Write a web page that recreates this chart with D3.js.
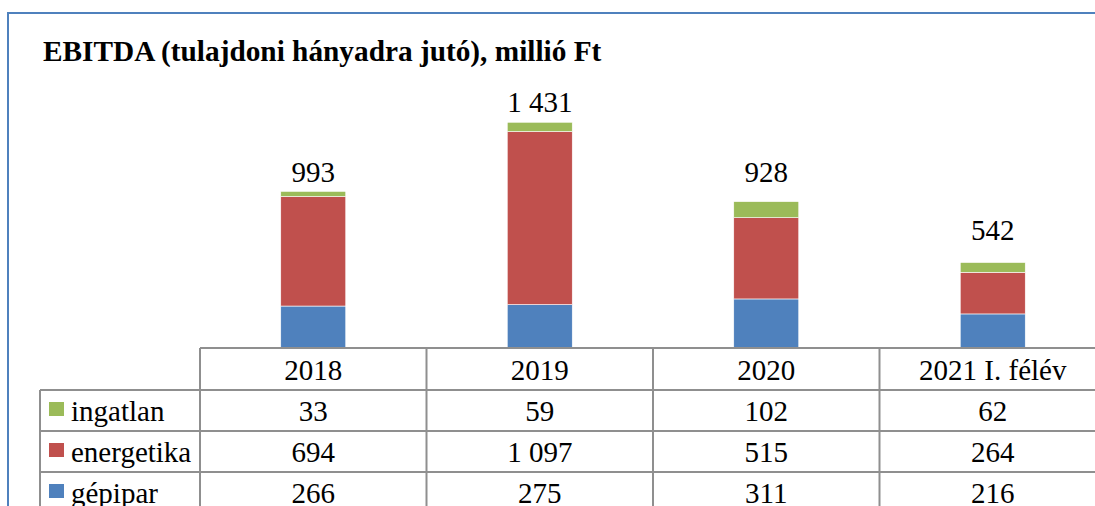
<!DOCTYPE html>
<html><head><meta charset="utf-8">
<script src="https://cdn.jsdelivr.net/npm/d3@7"></script>
<style>html,body{margin:0;padding:0;background:#fff;overflow:hidden}
svg text{font-family:"Liberation Serif","Tinos","Times New Roman",Times,"DejaVu Serif",serif;}</style>
</head><body>
<script>
const categories = ["2018", "2019", "2020", "2021 I. félév"];
const seriesNames = ["gépipar", "energetika", "ingatlan"];
const gepipar = [266, 275, 311, 216];
const energetika = [694, 1097, 515, 264];
const ingatlan = [33, 59, 102, 62];
const totals = [993, 1431, 928, 542];
const colors = ["#4F81BD", "#C0504D", "#9BBB59"];
// gap (px) between bar top and the total label's baseline, as placed in the original
const labelGaps = [9.5, 10, 20, 22];
const fmt = v => d3.format(",")(v).replace(/,/g, " ");

const W = 1095, H = 506;
const svg = d3.select("body").append("svg").attr("width", W).attr("height", H);

svg.append("rect").attr("x", 8).attr("y", 13).attr("width", 1200).attr("height", 600)
  .attr("fill", "none").attr("stroke", "#4F81BD").attr("stroke-width", 2);

svg.append("text").attr("x", 43).attr("y", 61)
  .attr("font-weight", "bold").attr("font-size", 29.3).attr("fill", "#000")
  .text("EBITDA (tulajdoni hányadra jutó), millió Ft");

const baseY = 348;
const x = d3.scaleBand().domain(categories).range([200, 1106]).paddingInner(0).paddingOuter(0);
const y = d3.scaleLinear().domain([0, 1600]).range([baseY, 95.6]);
const barW = 65;

const rows = categories.map((c, i) => ({cat: c, gépipar: gepipar[i], energetika: energetika[i], ingatlan: ingatlan[i]}));
const stack = d3.stack().keys(seriesNames)(rows);

svg.append("g").selectAll("g").data(stack).join("g")
  .attr("fill", (d, i) => colors[i])
  .selectAll("rect").data(d => d).join("rect")
  .attr("x", d => x(d.data.cat) + x.bandwidth() / 2 - barW / 2)
  .attr("width", barW)
  .attr("y", d => y(d[1]))
  .attr("height", d => y(d[0]) - y(d[1]))
  .attr("stroke", "#fff").attr("stroke-width", 0.6);

svg.append("g").selectAll("text").data(categories).join("text")
  .attr("x", d => x(d) + x.bandwidth() / 2)
  .attr("y", (d, i) => y(totals[i]) - labelGaps[i])
  .attr("text-anchor", "middle").attr("font-size", 29)
  .text((d, i) => fmt(totals[i]));

const lineC = "#8f8f8f", lw = 2;
const rowEdges = [348, 390, 431, 472, 513];
const tableRows = [
  {name: "ingatlan", vals: ingatlan, color: colors[2]},
  {name: "energetika", vals: energetika, color: colors[1]},
  {name: "gépipar", vals: gepipar, color: colors[0]}
];
const tg = svg.append("g");
tg.append("line").attr("x1", 200).attr("x2", W).attr("y1", rowEdges[0]).attr("y2", rowEdges[0]);
rowEdges.slice(1).forEach(r => tg.append("line").attr("x1", 40).attr("x2", W).attr("y1", r).attr("y2", r));
tg.append("line").attr("x1", 40).attr("x2", 40).attr("y1", rowEdges[1]).attr("y2", H + 10);
categories.forEach(c => tg.append("line").attr("x1", x(c)).attr("x2", x(c)).attr("y1", rowEdges[0]).attr("y2", H + 10));
tg.selectAll("line").attr("stroke", lineC).attr("stroke-width", lw);

tg.selectAll("text.h").data(categories).join("text").attr("class", "h")
  .attr("x", d => x(d) + x.bandwidth() / 2).attr("y", 380)
  .attr("text-anchor", "middle").attr("font-size", 29).text(d => d);

tableRows.forEach((r, ri) => {
  const cy = (rowEdges[ri + 1] + rowEdges[ri + 2]) / 2;
  tg.append("rect").attr("x", 49).attr("y", cy - 8.5).attr("width", 15).attr("height", 14).attr("fill", r.color);
  tg.append("text").attr("x", 71).attr("y", cy + 10).attr("font-size", 29).text(r.name);
  tg.selectAll(null).data(r.vals).join("text")
    .attr("x", (d, i) => x(categories[i]) + x.bandwidth() / 2).attr("y", cy + 10)
    .attr("text-anchor", "middle").attr("font-size", 29)
    .text(d => fmt(d));
});
</script>
</body></html>
